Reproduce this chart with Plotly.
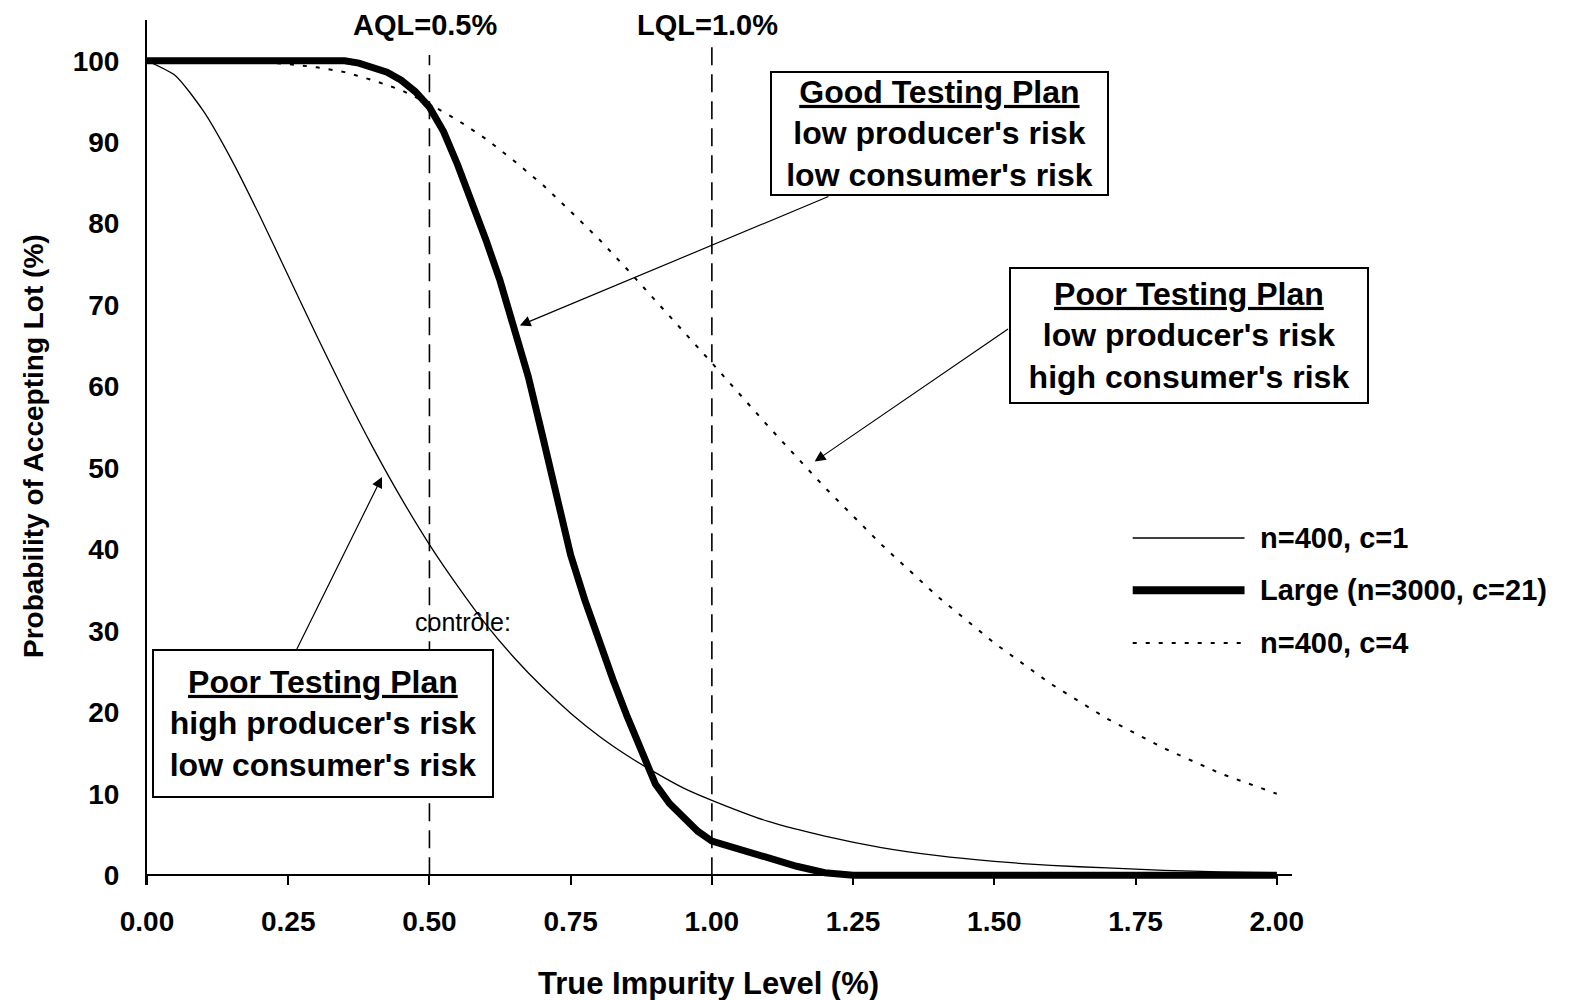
import plotly.graph_objects as go

# ---------------- data ----------------
x_std = [0.00, 0.05, 0.10, 0.15, 0.20, 0.25, 0.30, 0.35, 0.40, 0.45, 0.50,
         0.55, 0.60, 0.65, 0.70, 0.75, 0.80, 0.85, 0.90, 0.95, 1.00,
         1.10, 1.20, 1.30, 1.40, 1.50, 1.60, 1.70, 1.80, 1.90, 2.00]
n400_c1 = [100, 98.2, 93.8, 87.8, 80.9, 73.6, 66.3, 59.2, 52.5, 46.3, 40.6,
           35.5, 30.8, 26.7, 23.1, 19.9, 17.1, 14.7, 12.6, 10.7, 9.2,
           6.6, 4.8, 3.4, 2.4, 1.7, 1.2, 0.9, 0.6, 0.4, 0.3]
n400_c4 = [100, 100, 100, 99.9, 99.8, 99.6, 99.2, 98.6, 97.6, 96.4, 94.7,
           92.7, 90.4, 87.7, 84.8, 81.5, 78.1, 74.4, 70.6, 66.8, 62.9,
           55.1, 47.6, 40.6, 34.2, 28.5, 23.5, 19.2, 15.6, 12.5, 10.0]

x_large = [0.00, 0.10, 0.20, 0.30, 0.35,
           0.375, 0.400, 0.425, 0.450, 0.475, 0.500, 0.525, 0.550, 0.575, 0.600,
           0.625, 0.650, 0.675, 0.700, 0.725, 0.750, 0.775, 0.800, 0.825, 0.850,
           0.875, 0.900, 0.925, 0.950, 0.975, 1.000,
           1.05, 1.10, 1.15, 1.20, 1.25, 1.50, 1.75, 2.00]
large_n3000 = [100, 100, 100, 100, 100,
               99.7, 99.2, 98.6, 97.6, 96.2, 94.3, 91.3, 87.2, 82.8, 78.0,
               73.0, 67.3, 61.2, 54.0, 46.6, 39.3, 33.8, 28.7, 24.0, 19.5,
               15.2, 11.2, 8.8, 7.0, 5.4, 4.2,
               3.1, 2.1, 1.1, 0.3, 0, 0, 0, 0]

series_names = ["n=400, c=1", "Large (n=3000, c=21)", "n=400, c=4"]
x_ticks = [0.00, 0.25, 0.50, 0.75, 1.00, 1.25, 1.50, 1.75, 2.00]
x_ticktext = ["0.00", "0.25", "0.50", "0.75", "1.00", "1.25", "1.50", "1.75", "2.00"]
y_ticks = [0, 10, 20, 30, 40, 50, 60, 70, 80, 90, 100]
aql, lql = 0.5, 1.0

# ---------------- styling ----------------
FONT = "Liberation Sans, Arial, sans-serif"
BOLD = dict(family=FONT, color="black", weight="bold")

Y_MIN, Y_MAX = -1.2, 105
X_MAX = 2.027

fig = go.Figure()
fig.add_trace(go.Scatter(x=x_std, y=n400_c1, mode="lines", name=series_names[0],
                         line=dict(color="black", width=1.3, shape="spline", smoothing=0.6),
                         showlegend=False))
fig.add_trace(go.Scatter(x=x_large, y=large_n3000, mode="lines", name=series_names[1],
                         line=dict(color="black", width=7), showlegend=False))
fig.add_trace(go.Scatter(x=x_std, y=n400_c4, mode="lines", name=series_names[2],
                         line=dict(color="black", width=2, dash="4px,9px"),
                         showlegend=False))

# AQL / LQL dashed verticals
for xv, top in [(aql, 100.7), (lql, 102.2)]:
    fig.add_shape(type="line", xref="x", yref="y", x0=xv, x1=xv, y0=0, y1=top,
                  line=dict(color="black", width=1.6, dash="18px,9px"))

annotations = []
annotations.append(dict(x=aql - 0.007, y=104.4, xref="x", yref="y", text="AQL=0.5%",
                        showarrow=False, font=dict(size=29, **BOLD)))
annotations.append(dict(x=lql - 0.008, y=104.4, xref="x", yref="y", text="LQL=1.0%",
                        showarrow=False, font=dict(size=29, **BOLD)))

# text boxes
boxes = [
    (1.4035, 91.1, 335, 121, "<u>Good Testing Plan</u><br>low producer's risk<br>low consumer's risk"),
    (1.844, 66.25, 356, 133, "<u>Poor Testing Plan</u><br>low producer's risk<br>high consumer's risk"),
    (0.3115, 18.6, 338, 145, "<u>Poor Testing Plan</u><br>high producer's risk<br>low consumer's risk"),
]
for bx, by, bw, bh, txt in boxes:
    annotations.append(dict(x=bx, y=by, xref="x", yref="y", text=txt, showarrow=False,
                            width=bw, height=bh, align="center", valign="middle",
                            bordercolor="black", borderwidth=2, borderpad=0,
                            bgcolor="white", font=dict(size=32, **BOLD)))

# arrows (tip, tail)
arrows = [((0.660, 67.5), (1.209, 83.4)),
          ((1.182, 50.8), (1.527, 67.2)),
          ((0.416, 48.9), (0.264, 27.6))]
for (tx, ty), (sx, sy) in arrows:
    annotations.append(dict(x=tx, y=ty, ax=sx, ay=sy, xref="x", yref="y",
                            axref="x", ayref="y", text="", showarrow=True,
                            arrowhead=2, arrowsize=1.8, arrowwidth=1.2,
                            arrowcolor="black"))

annotations.append(dict(x=0.559, y=31.1, xref="x", yref="y", text="contrôle:",
                        showarrow=False, font=dict(family=FONT, size=25, color="black")))

# axis titles (paper coordinates; plot area spans x 147..1292 px, y 20..885 px)
annotations.append(dict(x=(708 - 147) / 1145, y=(885 - 983) / 865, xref="paper", yref="paper",
                        xanchor="center", yanchor="middle",
                        text="True Impurity Level (%)", showarrow=False,
                        font=dict(size=31, **BOLD)))
annotations.append(dict(x=(33 - 147) / 1145, y=(885 - 446) / 865, xref="paper", yref="paper",
                        xanchor="center", yanchor="middle",
                        text="Probability of Accepting Lot (%)", textangle=-90,
                        showarrow=False, font=dict(size=28, **BOLD)))

# manual legend
leg_rows = [(41.4, dict(color="black", width=1.5)),
            (35.0, dict(color="black", width=8)),
            (28.5, dict(color="black", width=2, dash="4px,9px"))]
for (ly, lstyle), name in zip(leg_rows, series_names):
    fig.add_shape(type="line", xref="x", yref="y", x0=1.745, x1=1.943, y0=ly, y1=ly,
                  line=lstyle)
    annotations.append(dict(x=1.966, y=ly, xref="x", yref="y", text=name, xanchor="left",
                            showarrow=False, font=dict(size=29, **BOLD)))

fig.update_layout(
    width=1572, height=1000,
    margin=dict(l=147, r=1572 - 1292, t=20, b=115),
    paper_bgcolor="white", plot_bgcolor="white",
    showlegend=False,
    annotations=annotations,
    xaxis=dict(range=[0, X_MAX], tickvals=x_ticks, ticktext=x_ticktext,
               showgrid=False, zeroline=False, showline=True, linecolor="black",
               linewidth=2, ticks="outside", ticklen=9, tickwidth=1.5,
               tickcolor="black", anchor="free",
               position=(0 - Y_MIN) / (Y_MAX - Y_MIN),
               ticklabelstandoff=12,
               tickfont=dict(size=28, **BOLD)),
    yaxis=dict(range=[Y_MIN, Y_MAX], tickvals=y_ticks, showgrid=False, zeroline=False,
               showline=True, linecolor="black", linewidth=2, ticks="",
               ticklabelstandoff=20, tickfont=dict(size=28, **BOLD)),
)

fig.write_html("out.html", config={"displayModeBar": False},
               post_script="document.body.style.margin='0';")
